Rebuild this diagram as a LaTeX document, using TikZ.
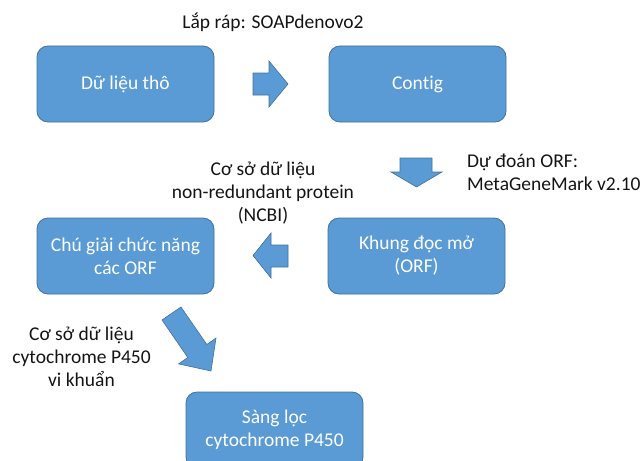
\documentclass[tikz,border=0pt]{standalone}
\usepackage{fontspec}
\setmainfont[Ligatures=NoCommon]{Carlito}
\definecolor{boxblue}{HTML}{5B9BD5}
\definecolor{boxedge}{HTML}{41719C}
\definecolor{labeltext}{HTML}{141414}
\begin{document}
\begin{tikzpicture}[x=1pt,y=-1pt,
  stepbox/.style={draw=boxedge,line width=0.8pt,fill=boxblue,rounded corners=11pt,
    minimum width=177pt,minimum height=76pt,text=white,align=center,inner sep=0pt,
    font=\fontsize{19.5}{23}\selectfont},
  lbl/.style={text=labeltext,align=center,inner sep=0pt,font=\fontsize{19.5}{23}\selectfont},
  barrow/.style={draw=boxedge,line width=0.6pt,fill=boxblue,line join=miter}]
\useasboundingbox (0,0) rectangle (644,460);
\begin{scope}
\clip (0,0) rectangle (644,460);
% boxes
\node[stepbox] (raw) at (125.5,84) {Dữ liệu thô};
\node[stepbox] (contig) at (417.5,84) {Contig};
\node[stepbox] (orf) at (416.5,256) {Khung đọc mở\\(ORF)};
\node[stepbox] (annot) at (125.5,256) {Chú giải chức năng\\các ORF};
\node[stepbox] (screen) at (274.5,430) {Sàng lọc\\cytochrome P450};
\end{scope}
% labels
\node[lbl] (l1) at (273,22) {Lắp ráp: SOAPdenovo2};
\node[lbl,align=left,anchor=west] (l2) at (467,172) {Dự đoán ORF:\\MetaGeneMark v2.10};
\node[lbl] (l3) at (263,193) {Cơ sở dữ liệu\\non-redundant protein\\(NCBI)};
\node[lbl] (l4) at (81.5,357) {Cơ sở dữ liệu\\cytochrome P450\\vi khuẩn};
% block arrows
\draw[barrow] (253,73) -- (269,73) -- (269,61) -- (288,84) -- (269,107) -- (269,95) -- (253,95) -- cycle;
\draw[barrow] (400,158) -- (432,158) -- (432,172) -- (442,172) -- (416.5,187) -- (391,172) -- (400,172) -- cycle;
\draw[barrow] (288,245) -- (271,245) -- (271,233) -- (253,255.5) -- (271,278) -- (271,267) -- (288,267) -- cycle;
\draw[barrow] (162.0,320.0) -- (187.8,357.5) -- (178.5,363.9) -- (211.0,371.0) -- (216.0,338.1) -- (206.8,344.5) -- (181.0,307.0) -- cycle;
\end{tikzpicture}
\end{document}
